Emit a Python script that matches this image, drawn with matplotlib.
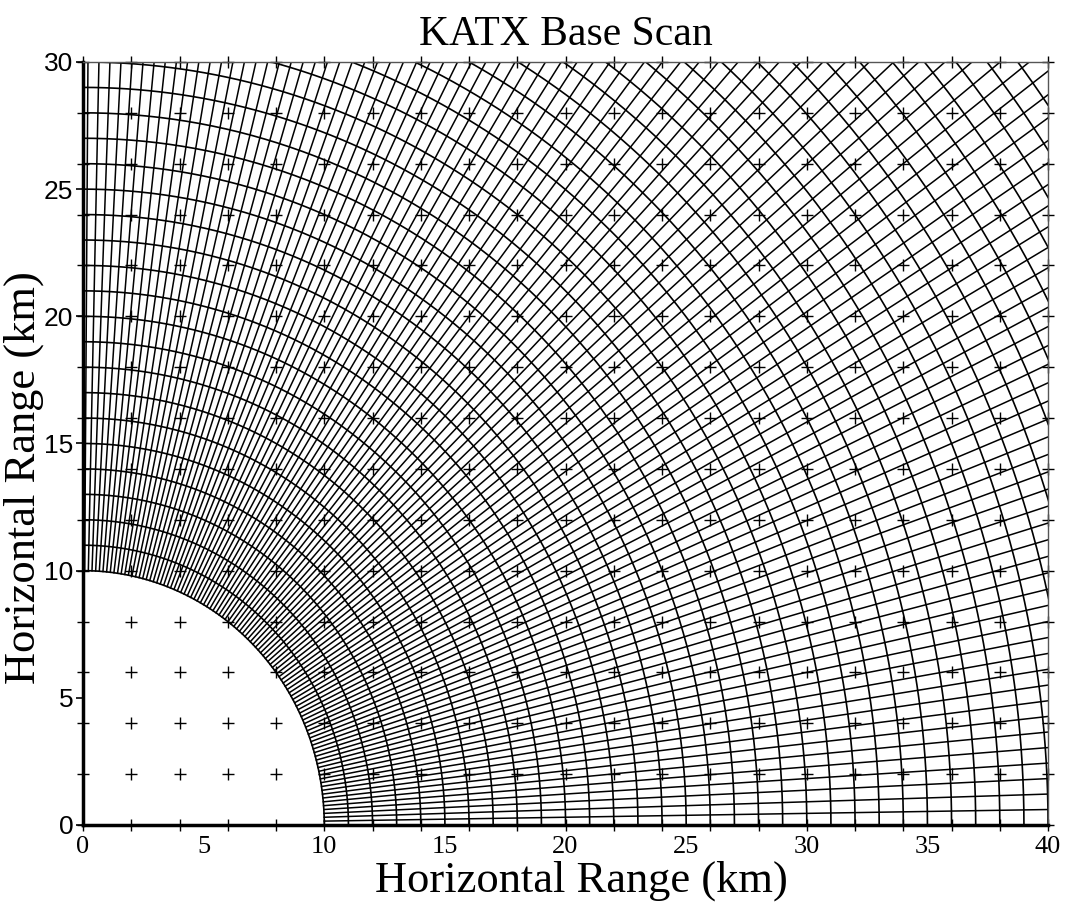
import numpy as np
import matplotlib
matplotlib.use('Agg')
import matplotlib.pyplot as plt

# scan geometry (km / degrees)
inner_range = 10.0
ring_ranges = np.arange(10, 51, 1)          # range gates every 1 km
beam_azimuths = np.arange(0, 90.01, 0.87)   # radial spacing
grid_x = np.arange(0, 41, 2)                # analysis grid points
grid_y = np.arange(0, 31, 2)

x_ticks = [0, 5, 10, 15, 20, 25, 30, 35, 40]
y_ticks = [0, 5, 10, 15, 20, 25, 30]


def main():
    fig = plt.figure(figsize=(10.7, 9.02), dpi=100)
    ax = fig.add_axes([0.0776, 0.0854, 0.9019, 0.8459])

    # analysis grid points
    gx, gy = np.meshgrid(grid_x, grid_y)
    ax.plot(gx.ravel(), gy.ravel(), linestyle='None', marker='+',
            markersize=9, markeredgewidth=1.0, color='black', clip_on=False,
            zorder=1)

    # range rings
    theta = np.linspace(0, np.pi / 2, 400)
    for r in ring_ranges:
        ax.plot(r * np.cos(theta), r * np.sin(theta), color='black',
                linewidth=1.2, zorder=2)

    # beam radials
    for az in beam_azimuths:
        a = np.deg2rad(az)
        ax.plot([inner_range * np.cos(a), 60 * np.cos(a)],
                [inner_range * np.sin(a), 60 * np.sin(a)],
                color='black', linewidth=1.1, zorder=2)

    ax.set_xlim(0, 40)
    ax.set_ylim(0, 30)
    ax.set_xticks(x_ticks)
    ax.set_yticks(y_ticks)
    ax.set_xticklabels([str(v) for v in x_ticks], family='Liberation Serif',
                       fontsize=19)
    ax.set_yticklabels([str(v) for v in y_ticks], family='Liberation Sans',
                       fontsize=19)
    ax.tick_params(axis='x', length=0, pad=8)
    ax.tick_params(axis='y', length=5, width=1.2, pad=2, direction='out')

    for side in ['left', 'bottom']:
        ax.spines[side].set_linewidth(2.5)
    for side in ['top', 'right']:
        ax.spines[side].set_linewidth(1.0)
        ax.spines[side].set_color('#555555')

    ax.set_title('KATX Base Scan', family='Liberation Serif', fontsize=30,
                 pad=12)
    ax.set_xlabel('Horizontal Range (km)', family='Liberation Serif',
                  fontsize=32)
    ax.set_ylabel('Horizontal Range (km)', family='Liberation Serif',
                  fontsize=32)
    ax.xaxis.set_label_coords(0.516, -0.047)
    ax.yaxis.set_label_coords(-0.040, 0.455)

    fig.savefig('out.png', dpi=100)


if __name__ == '__main__':
    main()
